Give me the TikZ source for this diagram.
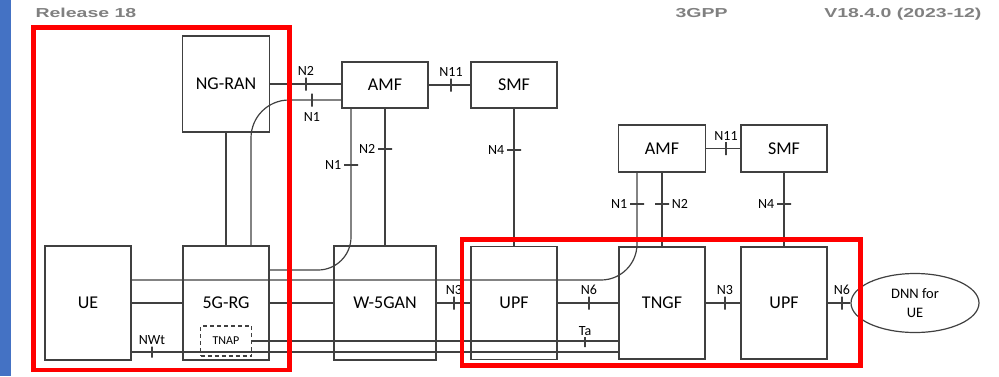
\documentclass[tikz,border=0pt]{standalone}
\usepackage{fontspec}
\setmainfont{Carlito}
\newfontfamily\hdrfont[FakeStretch=1.5]{Liberation Sans}
\usetikzlibrary{positioning,shapes.geometric}
\definecolor{edge}{RGB}{64,64,64}
\definecolor{hdrgray}{RGB}{128,128,128}
\definecolor{barblue}{RGB}{68,114,196}

\begin{document}
\begin{tikzpicture}[x=1pt,y=-1pt,
  nf/.style={draw=edge,line width=1.2pt,inner sep=0pt,font=\fontsize{18}{20}\selectfont},
  wire/.style={draw=edge,line width=1.2pt},
  vtick/.style={draw=edge,line width=1.2pt,inner sep=0pt,minimum width=0pt,minimum height=13pt},
  htick/.style={draw=edge,line width=1.2pt,inner sep=0pt,minimum width=14pt,minimum height=0pt},
  ref/.style={inner sep=1pt,font=\fontsize{14}{16}\selectfont},
  zone/.style={draw=red,line width=4.5pt},
  hdr/.style={text=hdrgray,font=\hdrfont\bfseries\fontsize{13}{15}\selectfont}]
\useasboundingbox (0,0) rectangle (999,376);
% page header
 \fill[barblue] (0,0) rectangle (11,376);
 \node[hdr,anchor=base west] (rel) at (32,17) {Release 18};
 \node[hdr,anchor=base west] (org) at (672,17) {3GPP};
 \node[hdr,anchor=base east] (ver) at (985,17) {V18.4.0 (2023-12)};
% control plane
 \node[nf,minimum width=87pt,minimum height=96pt] (ngran) at (226,84) {NG-RAN};
 \node[nf,minimum width=86pt,minimum height=46pt] (amfA) at (385,85) {AMF};
 \node[nf,minimum width=86pt,minimum height=46pt] (smfA) at (514,85) {SMF};
 \node[nf,minimum width=87pt,minimum height=47pt] (amfB) at (662,148.5) {AMF};
 \node[nf,minimum width=86pt,minimum height=47pt] (smfB) at (784,148.5) {SMF};
% access and user plane
 \node[nf,minimum width=86pt,minimum height=114pt] (ue) at (88,303) {UE};
 \node[nf,minimum width=86pt,minimum height=114pt] (rg) at (226,303) {5G-RG};
 \node[nf,minimum width=102pt,minimum height=114pt] (wgan) at (385,303) {W-5GAN};
 \node[nf,minimum width=86pt,minimum height=113pt] (upfA) at (514,303) {UPF};
 \node[nf,minimum width=86pt,minimum height=112pt] (tngf) at (662,303) {TNGF};
 \node[nf,minimum width=86pt,minimum height=112pt] (upfB) at (784,303) {UPF};
 \node[nf,dash pattern=on 4pt off 3pt,minimum width=51pt,minimum height=30pt,font=\fontsize{12}{14}\selectfont] (tnap) at (226,341) {TNAP};
 \node[nf,ellipse,minimum width=128pt,minimum height=59pt,align=center,font=\fontsize{14.5}{19}\selectfont] (dnn) at (915,303) {DNN for\\UE};
% wire levels
 \coordinate (hN1a) at (0,100);
 \coordinate (hN1b) at (0,270);
 \coordinate (hUE) at (0,280);
 \coordinate (hUP) at (0,352);
 \coordinate (vN1a) at (251,0);
 \coordinate (vN1b) at (351,0);
 \coordinate (vN1c) at (637,0);
% wires
 \draw[wire] (ngran.east) -- (ngran.east -| amfA.west);
 \draw[wire,rounded corners=38pt] (amfA.west |- hN1a) -| (vN1a |- rg.north);
 \draw[wire] (ngran.south) -- (rg.north);
 \draw[wire] (amfA.east) -- (smfA.west);
 \draw[wire] (amfA.south) -- (wgan.north);
 \draw[wire,rounded corners=33pt] (rg.east |- hN1b) -| (vN1b |- amfA.south);
 \draw[wire] (smfA.south) -- (upfA.north);
 \draw[wire] (amfB.east) -- (smfB.west);
 \draw[wire] (smfB.south) -- (upfB.north);
 \draw[wire] (amfB.south) -- (tngf.north);
 \draw[wire,rounded corners=36pt] (ue.east |- hUE) -| (vN1c |- amfB.south);
 \draw[wire] (ue.east) -- (rg.west);
 \draw[wire] (rg.east) -- (wgan.west);
 \draw[wire] (wgan.east) -- (upfA.west);
 \draw[wire] (upfA.east) -- (tngf.west);
 \draw[wire] (tngf.east) -- (upfB.west);
 \draw[wire] (upfB.east) -- (dnn.west);
 \draw[wire] (tnap.east) -- (tnap.east -| tngf.west);
 \draw[wire] (ue.east |- hUP) -- (tngf.west |- hUP);
% reference points
 \node[vtick] (tN2a) at (306,84) {};
 \node[ref,above=0pt of tN2a] (lN2a) {N2};
 \node[vtick] (tN1a) at (312,100) {};
 \node[ref,below=4pt of tN1a] (lN1a) {N1};
 \node[vtick] (tN11a) at (451,85) {};
 \node[ref,above=0pt of tN11a] (lN11a) {N11};
 \node[htick] (tN2b) at (385,149) {};
 \node[ref,left=1pt of tN2b] (lN2b) {N2};
 \node[htick] (tN1b) at (351,165) {};
 \node[ref,left=1pt of tN1b] (lN1b) {N1};
 \node[htick] (tN4a) at (514,150) {};
 \node[ref,left=1pt of tN4a] (lN4a) {N4};
 \node[vtick] (tN11b) at (726,148.5) {};
 \node[ref,above=0pt of tN11b] (lN11b) {N11};
 \node[htick] (tN1c) at (637,204) {};
 \node[ref,left=1pt of tN1c] (lN1c) {N1};
 \node[htick] (tN2c) at (662,204) {};
 \node[ref,right=1pt of tN2c] (lN2c) {N2};
 \node[htick] (tN4b) at (784,204) {};
 \node[ref,left=1pt of tN4b] (lN4b) {N4};
 \node[vtick] (tN3a) at (454,303) {};
 \node[ref,above=0pt of tN3a] (lN3a) {N3};
 \node[vtick] (tN6a) at (589,303) {};
 \node[ref,above=0pt of tN6a] (lN6a) {N6};
 \node[vtick] (tN3b) at (725,303) {};
 \node[ref,above=0pt of tN3b] (lN3b) {N3};
 \node[vtick] (tN6b) at (842,303) {};
 \node[ref,above=0pt of tN6b] (lN6b) {N6};
 \node[vtick,minimum height=10pt] (tTa) at (585,342) {};
 \node[ref,above=0pt of tTa] (lTa) {Ta};
 \node[vtick,minimum height=11pt] (tNWt) at (152,352) {};
 \node[ref,above=0pt of tNWt] (lNWt) {NWt};
% highlighted zones
 \draw[zone] (33.5,27.5) rectangle (289.5,370);
 \draw[zone] (462,239.5) rectangle (860.5,365.5);
\end{tikzpicture}
\end{document}
